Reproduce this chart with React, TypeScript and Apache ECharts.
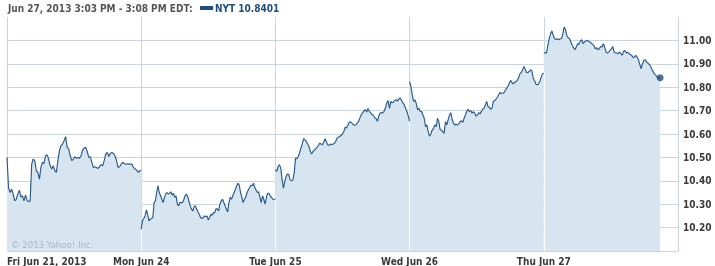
import React, { useEffect, useRef } from "react";
import * as echarts from "echarts";

// ---- data ----
const dayLabels = ["Fri Jun 21, 2013", "Mon Jun 24", "Tue Jun 25", "Wed Jun 26", "Thu Jun 27"];
const daySpanMinutes = [390, 390, 390, 390, 338];
const minutesPerDay = 390;

const fri = [10.500,10.371,10.350,10.364,10.343,10.314,10.321,10.343,10.360,10.331,10.336,10.314,10.340,10.317,10.311,10.314,10.471,10.493,10.486,10.443,10.436,10.407,10.457,10.479,10.474,10.507,10.511,10.493,10.464,10.450,10.464,10.443,10.436,10.486,10.529,10.550,10.557,10.571,10.589,10.543,10.536,10.507,10.486,10.493,10.503,10.496,10.500,10.497,10.507,10.531,10.540,10.543,10.526,10.500,10.503,10.479,10.457,10.460,10.457,10.453,10.460,10.469,10.464,10.486,10.514,10.521,10.504,10.517,10.521,10.517,10.507,10.486,10.457,10.460,10.471,10.479,10.474,10.471,10.473,10.471,10.471,10.471,10.457,10.450,10.446,10.436,10.443,10.443];
const mon = [10.193,10.229,10.239,10.250,10.276,10.257,10.229,10.236,10.239,10.243,10.307,10.314,10.350,10.379,10.350,10.336,10.321,10.307,10.329,10.343,10.350,10.343,10.347,10.353,10.339,10.347,10.329,10.336,10.300,10.293,10.307,10.307,10.307,10.319,10.336,10.343,10.333,10.314,10.293,10.279,10.271,10.290,10.293,10.279,10.267,10.257,10.243,10.239,10.243,10.250,10.246,10.250,10.233,10.243,10.257,10.253,10.264,10.264,10.281,10.279,10.271,10.300,10.314,10.321,10.307,10.293,10.279,10.267,10.307,10.329,10.321,10.336,10.350,10.364,10.379,10.390,10.381,10.350,10.329,10.307,10.321,10.329,10.350,10.361,10.371,10.381,10.379,10.390,10.371,10.361,10.350,10.353,10.329,10.307,10.336,10.321,10.300,10.329,10.347,10.347,10.336,10.329,10.321,10.321,10.319];
const tue = [10.447,10.440,10.461,10.469,10.454,10.404,10.369,10.397,10.419,10.429,10.426,10.404,10.400,10.404,10.433,10.497,10.494,10.504,10.519,10.540,10.557,10.580,10.576,10.569,10.557,10.547,10.526,10.514,10.526,10.529,10.537,10.543,10.551,10.561,10.557,10.554,10.566,10.580,10.566,10.554,10.551,10.557,10.554,10.557,10.560,10.569,10.583,10.586,10.590,10.594,10.600,10.611,10.629,10.626,10.637,10.651,10.651,10.647,10.640,10.637,10.640,10.647,10.654,10.669,10.683,10.690,10.700,10.704,10.694,10.709,10.697,10.690,10.683,10.680,10.669,10.666,10.654,10.676,10.690,10.690,10.690,10.697,10.711,10.733,10.743,10.709,10.740,10.733,10.737,10.743,10.747,10.740,10.751,10.754,10.743,10.733,10.726,10.709,10.697,10.676,10.654];
const wed = [10.824,10.803,10.767,10.739,10.746,10.731,10.703,10.710,10.696,10.696,10.681,10.667,10.631,10.639,10.610,10.591,10.600,10.617,10.624,10.639,10.631,10.667,10.653,10.617,10.617,10.610,10.603,10.653,10.639,10.660,10.681,10.691,10.663,10.646,10.639,10.641,10.639,10.643,10.653,10.657,10.649,10.667,10.681,10.696,10.706,10.696,10.700,10.689,10.696,10.689,10.677,10.681,10.691,10.686,10.696,10.706,10.710,10.724,10.739,10.717,10.714,10.706,10.710,10.739,10.743,10.749,10.757,10.767,10.777,10.774,10.774,10.777,10.786,10.796,10.803,10.817,10.829,10.820,10.814,10.820,10.824,10.829,10.839,10.857,10.863,10.874,10.889,10.877,10.863,10.863,10.867,10.874,10.871,10.839,10.829,10.814,10.810,10.814,10.824,10.843,10.857,10.860];
const thu = [10.947,10.947,10.947,10.979,11.007,11.028,11.040,11.021,11.007,11.004,11.007,11.003,11.007,11.007,11.026,11.057,11.046,11.021,11.011,11.007,10.993,10.979,10.969,10.960,10.972,10.986,10.983,10.997,11.003,10.986,10.993,10.997,11.000,10.997,10.993,10.989,10.983,10.979,10.964,10.969,10.960,10.964,10.974,10.972,10.986,10.972,10.950,10.946,10.950,10.957,10.964,10.974,10.950,10.946,10.946,10.943,10.950,10.943,10.936,10.954,10.957,10.946,10.950,10.943,10.940,10.936,10.926,10.929,10.936,10.929,10.917,10.897,10.879,10.900,10.915,10.917,10.907,10.903,10.897,10.889,10.875,10.865,10.855,10.850,10.843,10.840,10.8401];
const days = [fri, mon, tue, wed, thu];

const yMin = 10.1;
const yMax = 11.1;
const yStep = 0.1;

const headerText = "Jun 27, 2013 3:03 PM - 3:08 PM EDT:";
const ticker = "NYT";
const copyright = "\u00a9 2013 Yahoo! Inc.";

// ---- styles ----
const lineColor = "#295a8b";
const fillColor = "#d6e5f0";
const gridColor = "#c8d5df";
const labelColor = "#3a3a3a";
const font = '"DejaVu Sans Condensed", "DejaVu Sans", sans-serif';

export default function App() {
  const ref = useRef<HTMLDivElement>(null);
  useEffect(() => {
    if (!ref.current) return;
    const chart = echarts.init(ref.current, null, { renderer: "svg" });

    const dayData = days.map((vals, d) =>
      vals.map((v, i) => [d * minutesPerDay + (i * daySpanMinutes[d]) / (vals.length - 1), v])
    );
    const last = thu[thu.length - 1];
    const lastPoint = dayData[4][dayData[4].length - 1];

    const series: any[] = dayData.map((data, d) => {
      const s: any = {
        type: "line",
        data,
        showSymbol: false,
        symbol: "none",
        lineStyle: { color: lineColor, width: 1.15 },
        areaStyle: { color: fillColor, opacity: 1 },
        silent: true,
        z: 2,
      };
      if (d > 0) {
        const prev = days[d - 1];
        const top = Math.min(prev[prev.length - 1], days[d][0]);
        s.markLine = {
          silent: true,
          symbol: "none",
          label: { show: false },
          lineStyle: { color: "#ffffff", width: 1, type: "solid" },
          data: [[{ coord: [d * minutesPerDay, yMin] }, { coord: [d * minutesPerDay, top] }]],
        };
      }
      return s;
    });
    series.push({
      type: "scatter",
      data: [lastPoint],
      symbol: "circle",
      symbolSize: 7,
      itemStyle: { color: "#1d4d7d" },
      silent: true,
      z: 5,
    });

    chart.setOption({
      animation: false,
      grid: { left: 7, right: 37, top: 17, bottom: 15 },
      xAxis: {
        type: "value",
        min: 0,
        max: minutesPerDay * 5,
        interval: minutesPerDay,
        axisLine: { show: true, lineStyle: { color: gridColor } },
        axisTick: { show: false },
        splitLine: { show: true, lineStyle: { color: gridColor } },
        axisLabel: {
          color: labelColor,
          fontFamily: font,
          fontWeight: "bold",
          fontSize: 10,
          margin: 5,
          showMaxLabel: false,
          alignMinLabel: "left",
          formatter: (v: number) => dayLabels[Math.round(v / minutesPerDay)] || "",
        },
      },
      yAxis: {
        type: "value",
        position: "right",
        min: yMin,
        max: yMax,
        interval: yStep,
        axisLine: { show: false },
        axisTick: { show: false },
        splitLine: { show: true, showMaxLine: false, lineStyle: { color: gridColor } },
        axisLabel: {
          color: labelColor,
          fontFamily: font,
          fontWeight: "bold",
          fontSize: 10,
          margin: 5,
          showMinLabel: false,
          showMaxLabel: false,
          formatter: (v: number) => v.toFixed(2),
        },
      },
      graphic: [
        {
          type: "text",
          x: 8,
          y: 8,
          style: { text: headerText, fill: "#555555", font: `bold 10px ${font}`, verticalAlign: "middle" },
        },
        { type: "rect", shape: { x: 200, y: 6, width: 13, height: 4 }, style: { fill: "#1f4e7c" } },
        {
          type: "text",
          x: 215,
          y: 8,
          style: { text: `${ticker} ${last.toFixed(4)}`, fill: "#1f4e7c", font: `bold 10px ${font}`, verticalAlign: "middle" },
        },
        {
          type: "text",
          x: 11,
          y: 244,
          z: 10,
          style: { text: copyright, fill: "#a9b8c4", font: `9.5px ${font}`, verticalAlign: "middle" },
        },
      ],
      series,
    });
    return () => chart.dispose();
  }, []);
  return <div ref={ref} style={{ position: "fixed", left: 0, top: 0, width: 715, height: 266 }} />;
}
